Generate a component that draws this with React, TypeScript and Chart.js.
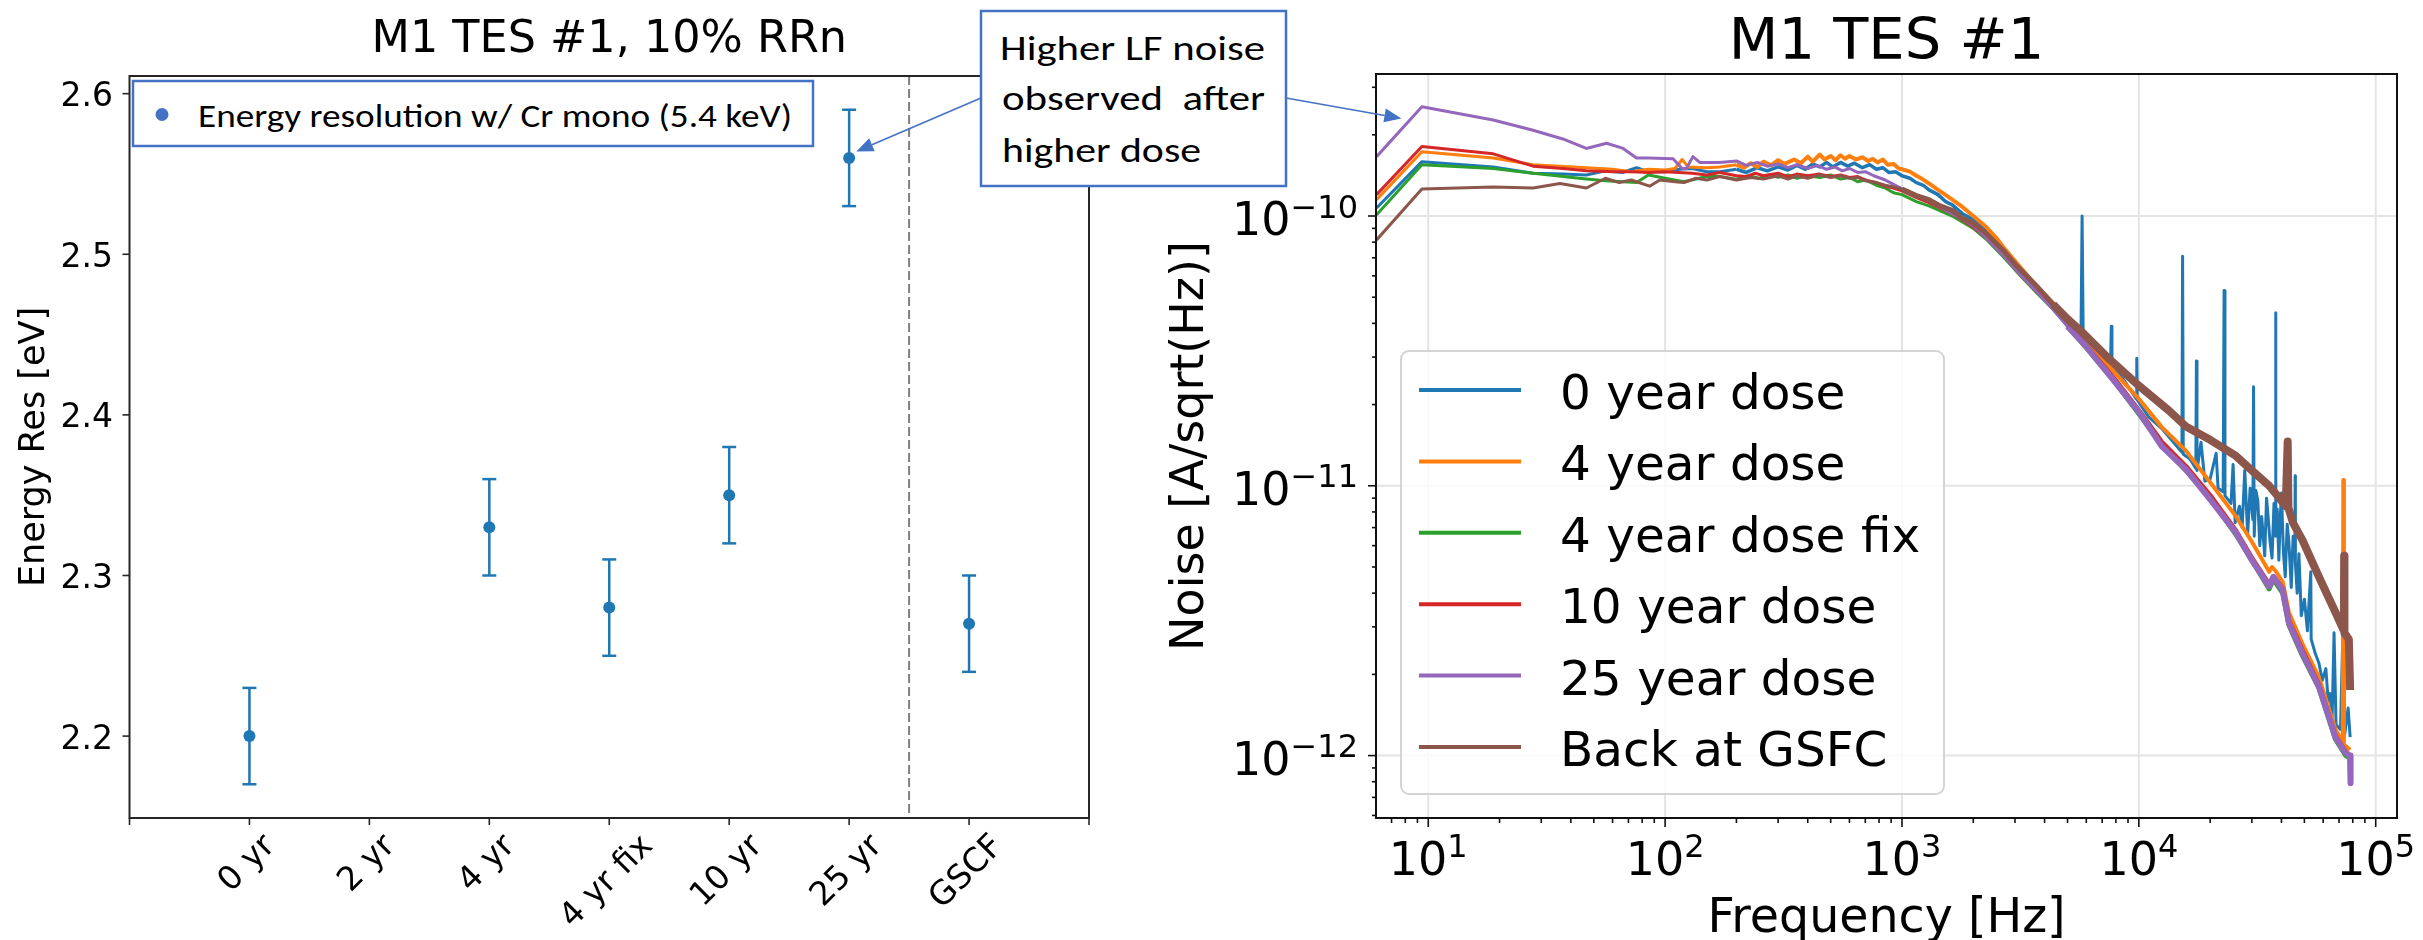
import React, { useEffect, useRef, useState } from 'react';
import { Chart, registerables } from 'chart.js';

Chart.register(...registerables);

// ---------------- Left panel data ----------------
const categories = ['0 yr', '2 yr', '4 yr', '4 yr fix', '10 yr', '25 yr', 'GSCF'];
const resolution = [2.2, null, 2.33, 2.28, 2.35, 2.56, 2.27];
const resolutionErr = [0.03, null, 0.03, 0.03, 0.03, 0.03, 0.03];
const resTicks = [2.2, 2.3, 2.4, 2.5, 2.6];
const separatorAt = 6.5;

// ---------------- Right panel data ----------------
// [frequency (Hz), noise (1e-12 A/sqrt(Hz))]
const dose0 = [
  [6.05, 107], [9.4, 159], [18.8, 152], [27.7, 144], [37, 143], [46.5, 142], [56, 147], [66, 145], [75.7, 151], [85, 146],
  [100, 146], [115, 149], [130, 150], [150, 146], [170, 146], [200, 149], [220, 145], [245, 151], [270, 147], [300, 152],
  [330, 148], [360, 154], [390, 149], [420, 156], [450, 152], [480, 158], [510, 152], [550, 158], [590, 153], [630, 157],
  [680, 151], [730, 155], [780, 149], [830, 151], [880, 145], [940, 146], [1000, 141], [1080, 138], [1150, 133], [1230, 130],
  [1300, 125], [1420, 120], [1530, 113], [1630, 110], [1800, 102], [2000, 97], [2270, 88], [2500, 80], [2700, 74], [3140, 63],
  [3700, 54], [4350, 46.5], [5000, 41], [5700, 37], [5760, 100], [5820, 36.5], [6600, 32.5], [7600, 28.5], [7650, 39], [7700, 28.2],
  [8700, 24.5], [9750, 21], [9800, 29.7], [9850, 20.8], [11000, 18], [12500, 16.3], [14000, 14.5], [15200, 13.3], [15300, 71], [15400, 13.1],
  [16400, 12.6], [17400, 11.6], [17500, 29], [17600, 11.4], [18300, 14.5], [19000, 10.4], [20000, 10.6], [21200, 13.2], [21600, 9.8], [22700, 9.5],
  [22900, 53], [23100, 9.2], [24500, 8.6], [25000, 12.0], [25500, 7.3], [26600, 8.4], [27300, 7.0], [28000, 11.4], [28800, 6.6], [29500, 9.8],
  [30300, 7.5], [30500, 23.3], [30700, 6.5], [31200, 9.6], [31800, 8.8], [32400, 6.0], [33000, 7.7], [34000, 5.5], [34600, 9.0], [35000, 8.0],
  [35800, 6.2], [36500, 5.4], [37200, 8.6], [37700, 7.5], [37800, 43.8], [37900, 6.5], [38400, 8.2], [39000, 5.3], [39600, 7.8], [40000, 9.4],
  [40800, 5.6], [41500, 4.6], [42300, 7.2], [43000, 6.2], [44000, 4.2], [44800, 6.5], [45600, 5.6], [45700, 10.9], [45800, 5.2], [46600, 4.0],
  [47400, 5.6], [48500, 3.3], [50000, 3.8], [51500, 2.9], [53200, 4.8], [53400, 2.7], [55500, 2.4], [57600, 2.2], [59500, 1.9], [61600, 2.1],
  [63000, 1.6], [64000, 1.7], [65500, 1.4], [66700, 2.85], [68000, 1.3], [71000, 1.25], [72800, 3.0], [74000, 1.2], [76500, 1.5], [78000, 1.17],
];
const dose4 = [
  [6.05, 115], [9.4, 173], [18.8, 164], [27.7, 155], [46.5, 151], [60, 149], [72, 146], [85, 149], [100, 148], [110, 150],
  [118, 162], [125, 152], [150, 151], [170, 152], [200, 155], [215, 151], [230, 157], [245, 152], [260, 159], [280, 154],
  [300, 161], [320, 156], [350, 162], [375, 157], [400, 166], [420, 159], [450, 169], [470, 162], [500, 167], [525, 161],
  [550, 168], [575, 163], [600, 167], [640, 162], [680, 165], [720, 160], [752, 163], [790, 158], [830, 162], [870, 155],
  [920, 156], [970, 150], [1000, 149], [1080, 146], [1150, 141], [1220, 137], [1300, 132], [1400, 126], [1500, 121], [1630, 115],
  [1800, 108], [2000, 100], [2270, 91], [2500, 83], [2700, 76], [3140, 65], [3700, 55], [4350, 47.5], [5000, 41.5], [6000, 34],
  [8000, 26], [10000, 21], [12500, 16.5], [15800, 13.5], [20000, 10.3], [25700, 7.7], [30000, 6.2], [35500, 4.8], [36500, 5.0], [38000, 4.8],
  [40500, 4.4], [43000, 3.4], [49000, 2.6], [57600, 1.95], [67600, 1.25], [72600, 1.12], [73000, 10.5], [73400, 1.1], [78000, 1.05],
];
const dose4fix = [
  [6.05, 101], [9.4, 155], [18.8, 150], [27.7, 144], [46.5, 137], [56, 135], [66, 134], [75.7, 133], [85, 142], [100, 138],
  [120, 134], [150, 140], [170, 140], [200, 137], [225, 141], [250, 138], [275, 142], [300, 139], [330, 142], [360, 138],
  [400, 141], [450, 139], [500, 142], [550, 137], [600, 139], [650, 134], [700, 136], [780, 130], [850, 127], [920, 122],
  [1000, 120], [1150, 113], [1300, 109], [1630, 100], [2000, 90], [2270, 82], [2700, 70], [3140, 60.5], [3700, 52], [4350, 45],
  [5000, 39], [6000, 32.5], [8000, 24], [10000, 18.5], [12500, 14.2], [15800, 11.4], [20000, 9], [25700, 6.6], [30000, 5.3], [35500, 4.15],
  [37000, 4.5], [40500, 4.0], [43000, 3.05], [49000, 2.35], [57600, 1.78], [67600, 1.15], [74800, 1.0], [78000, 0.98], [78300, 0.8],
];
const dose10 = [
  [6.05, 120], [9.4, 181], [18.8, 170], [27.7, 153], [37, 150], [46.5, 147], [60, 146], [72, 146], [85, 145], [100, 146],
  [130, 144], [150, 142], [170, 145], [200, 141], [220, 140], [240, 144], [260, 141], [300, 144], [330, 140], [360, 143],
  [400, 141], [450, 143], [500, 140], [550, 142], [600, 139], [650, 140], [700, 136], [780, 133], [850, 129], [920, 127],
  [1000, 124], [1150, 117], [1300, 112], [1630, 102], [2000, 91], [2270, 83], [2700, 71], [3140, 61], [3700, 52.5], [4350, 45.5],
  [5000, 39.5], [6000, 33], [8000, 24.5], [10000, 19], [12500, 14.5], [15800, 11.8], [20000, 9.2], [25700, 6.8], [30000, 5.4], [35500, 4.3],
  [37000, 4.6], [40500, 4.15], [43000, 3.15], [49000, 2.45], [57600, 1.82], [67600, 1.18], [74800, 1.03], [78000, 1.0], [78300, 0.79],
];
const dose25 = [
  [6.05, 166], [9.4, 254], [18.8, 227], [27.7, 208], [37, 193], [46.5, 178], [56.6, 186], [66.5, 178], [75.7, 164], [85, 164],
  [108, 163], [118, 150], [123, 150], [131, 166], [140, 158], [170, 158], [200, 160], [220, 154], [245, 158], [270, 153],
  [300, 156], [330, 151], [360, 155], [400, 150], [440, 154], [480, 149], [520, 152], [560, 147], [600, 150], [650, 145],
  [700, 146], [760, 141], [850, 136], [920, 131], [1000, 126], [1150, 119], [1300, 114], [1630, 102], [2000, 92], [2270, 83],
  [2700, 71], [3140, 61], [3700, 52.5], [4350, 45], [5000, 39], [6000, 32.8], [8000, 24], [10000, 18.8], [12500, 14], [15800, 11.5],
  [20000, 8.9], [25700, 6.7], [30000, 5.3], [35500, 4.24], [37000, 4.6], [40500, 4.1], [43000, 3.1], [49000, 2.4], [57600, 1.8], [67600, 1.17],
  [74800, 1.02], [78000, 1.0], [78300, 0.79],
];
const backGSFC = [
  [6.05, 81.5], [9.4, 126], [18.8, 128], [27.7, 127], [36, 132], [46.5, 127], [56, 138], [64, 133], [72, 136], [86, 129],
  [95, 136], [110, 134], [120, 133], [135, 138], [150, 136], [170, 140], [200, 136], [230, 139], [260, 137], [300, 141],
  [330, 137], [360, 141], [400, 138], [450, 142], [500, 139], [550, 141], [600, 138], [650, 139], [700, 135], [780, 133],
  [850, 130], [920, 128], [1000, 126], [1150, 119], [1300, 115], [1450, 109], [1630, 105], [1800, 98], [2000, 94], [2270, 86],
  [2700, 74], [3040, 65.5], [3700, 55], [4350, 47], [5000, 41.5], [5800, 36.9], [7500, 29.5], [10000, 23.5], [13400, 19], [15800, 16.6],
  [20000, 14.8], [25700, 12.9], [30000, 11.4], [35500, 10], [38000, 9.3], [41700, 8.4], [42500, 14.6], [42800, 8.3], [44700, 7.3], [49000, 6.3],
  [57600, 4.6], [67600, 3.4], [73400, 2.9], [73600, 5.5], [73800, 2.85], [77000, 2.7], [78000, 1.75],
];
const noiseSeries = [dose0, dose4, dose4fix, dose10, dose25, backGSFC];
const seriesLabels = ['0 year dose', '4 year dose', '4 year dose fix', '10 year dose', '25 year dose', 'Back at GSFC'];
const seriesColors = ['#1f77b4', '#ff7f0e', '#2ca02c', '#d62728', '#9467bd', '#8c564b'];
const freqTicks = [10, 100, 1000, 10000, 100000];
const noiseTicks = [1e-12, 1e-11, 1e-10];
const noiseUnit = 1e-12;

// ---------------- styling ----------------
const FONT = "'DejaVu Sans', 'Liberation Sans', sans-serif";
const NOTE_FONT = "Carlito, Lato, 'Open Sans', sans-serif";
const NOTE_BLUE = '#4472C4';
const RIGHT_X = 1110;

function seg(ctx: CanvasRenderingContext2D, x1: number, y1: number, x2: number, y2: number) {
  ctx.beginPath();
  ctx.moveTo(x1, y1);
  ctx.lineTo(x2, y2);
  ctx.stroke();
}

function lineWidthFor(series: number, f: number): number {
  if (series === 5) return f >= 4000 ? 8 : f >= 1000 ? 5 : 3;
  if (series === 4) return f >= 5000 ? 6 : 3;
  if (series === 1) return f >= 200 ? 4 : 3;
  if (series === 0) return f >= 200 && f < 5000 ? 3.5 : 3;
  return f >= 5000 ? 5 : 3;
}

const leftDecor = {
  id: 'leftDecor',
  beforeDatasetsDraw(chart: any) {
    const { ctx, chartArea: a, scales } = chart;
    const xs = scales.x;
    const ys = scales.y;
    ctx.save();
    ctx.strokeStyle = '#7f7f7f';
    ctx.lineWidth = 2;
    ctx.setLineDash([9, 4]);
    const dx = xs.getPixelForValue(separatorAt);
    seg(ctx, dx, a.top, dx, a.bottom);
    ctx.setLineDash([]);
    ctx.strokeStyle = '#1f77b4';
    ctx.lineWidth = 2.5;
    resolution.forEach((v, i) => {
      if (v == null) return;
      const e = resolutionErr[i] as number;
      const px = xs.getPixelForValue(i + 1);
      const top = ys.getPixelForValue(v + e);
      const bot = ys.getPixelForValue(v - e);
      seg(ctx, px, top, px, bot);
      seg(ctx, px - 7, top, px + 7, top);
      seg(ctx, px - 7, bot, px + 7, bot);
    });
    ctx.restore();
  },
  afterDraw(chart: any) {
    const { ctx, chartArea: a, scales } = chart;
    const xs = scales.x;
    const ys = scales.y;
    ctx.save();
    ctx.strokeStyle = '#262626';
    ctx.lineWidth = 2;
    ctx.strokeRect(a.left, a.top, a.right - a.left, a.bottom - a.top);
    ctx.lineWidth = 1.6;
    for (let i = 0; i <= categories.length + 1; i++) {
      const px = xs.getPixelForValue(i);
      seg(ctx, px, a.bottom, px, a.bottom + 7);
    }
    resTicks.forEach((v) => {
      const py = ys.getPixelForValue(v);
      seg(ctx, a.left - 7, py, a.left, py);
    });
    ctx.fillStyle = '#000';
    ctx.font = `33px ${FONT}`;
    ctx.textAlign = 'right';
    ctx.textBaseline = 'alphabetic';
    resTicks.forEach((v) => ctx.fillText(v.toFixed(1), a.left - 16.5, ys.getPixelForValue(v) + 12.5));
    ctx.textAlign = 'center';
    ctx.textBaseline = 'middle';
    categories.forEach((c, i) => {
      const px = xs.getPixelForValue(i + 1);
      const w = ctx.measureText(c).width;
      const H = (w + 33 * 1.17) * Math.SQRT1_2;
      ctx.save();
      ctx.translate(px - 2, a.bottom + 9.5 + H / 2);
      ctx.rotate(-Math.PI / 4);
      ctx.fillText(c, 0, 0);
      ctx.restore();
    });
    ctx.textBaseline = 'alphabetic';
    ctx.font = `35px ${FONT}`;
    ctx.save();
    ctx.translate(43.5, (a.top + a.bottom) / 2);
    ctx.rotate(-Math.PI / 2);
    ctx.fillText('Energy Res [eV]', 0, 0);
    ctx.restore();
    ctx.font = `44.5px ${FONT}`;
    ctx.fillText('M1 TES #1, 10% RRn', (a.left + a.right) / 2, 52);
    ctx.restore();
  },
};

function drawPow(ctx: CanvasRenderingContext2D, exp: string, anchor: number, align: 'center' | 'right', baseY: number, supY: number) {
  ctx.font = `46px ${FONT}`;
  const wb = ctx.measureText('10').width;
  ctx.font = `32px ${FONT}`;
  const ws = ctx.measureText(exp).width;
  const start = align === 'center' ? anchor - (wb + ws) / 2 : anchor - (wb + ws);
  ctx.textAlign = 'left';
  ctx.font = `46px ${FONT}`;
  ctx.fillText('10', start, baseY);
  ctx.font = `32px ${FONT}`;
  ctx.fillText(exp, start + wb, supY);
}

const rightDecor = {
  id: 'rightDecor',
  beforeDatasetsDraw(chart: any) {
    const { ctx, chartArea: a, scales } = chart;
    ctx.save();
    ctx.strokeStyle = '#e4e4e4';
    ctx.lineWidth = 2;
    freqTicks.forEach((v) => {
      const px = scales.x.getPixelForValue(v);
      if (px > a.left + 1 && px < a.right - 1) seg(ctx, px, a.top, px, a.bottom);
    });
    noiseTicks.forEach((v) => {
      const py = scales.y.getPixelForValue(v);
      if (py > a.top + 1 && py < a.bottom - 1) seg(ctx, a.left, py, a.right, py);
    });
    ctx.restore();
  },
  afterDraw(chart: any) {
    const { ctx, chartArea: a, scales } = chart;
    const xs = scales.x;
    const ys = scales.y;
    ctx.save();
    // legend
    const lw = 543;
    const lh = 443;
    const lx = a.left + 25;
    const ly = a.bottom - 24 - lh;
    ctx.fillStyle = 'rgba(255,255,255,0.8)';
    ctx.strokeStyle = '#d4d4d4';
    ctx.lineWidth = 2;
    ctx.beginPath();
    (ctx as any).roundRect(lx, ly, lw, lh, 8);
    ctx.fill();
    ctx.stroke();
    ctx.font = `48.5px ${FONT}`;
    ctx.textAlign = 'left';
    ctx.textBaseline = 'alphabetic';
    seriesLabels.forEach((lab, i) => {
      const ry = ly + 39 + i * 71.4;
      ctx.strokeStyle = seriesColors[i];
      ctx.lineWidth = 4;
      seg(ctx, lx + 18, ry, lx + 120, ry);
      ctx.fillStyle = '#000';
      ctx.fillText(lab, lx + 159, ry + 19);
    });
    // spines
    ctx.strokeStyle = '#111';
    ctx.lineWidth = 2;
    ctx.strokeRect(a.left, a.top, a.right - a.left, a.bottom - a.top);
    // ticks
    const xmin = xs.min;
    const xmax = xs.max;
    const ymin = ys.min;
    const ymax = ys.max;
    ctx.lineWidth = 1.6;
    for (let e = 0; e <= 5; e++) {
      for (let m = 1; m <= 9; m++) {
        const v = m * Math.pow(10, e);
        if (v < xmin || v > xmax) continue;
        const px = xs.getPixelForValue(v);
        seg(ctx, px, a.bottom, px, a.bottom + (m === 1 ? 9 : 5));
      }
    }
    for (let e = -13; e <= -10; e++) {
      for (let m = 1; m <= 9; m++) {
        const v = m * Math.pow(10, e);
        if (v < ymin || v > ymax) continue;
        const py = ys.getPixelForValue(v);
        seg(ctx, a.left - (m === 1 ? 8 : 4), py, a.left, py);
      }
    }
    // tick labels
    ctx.fillStyle = '#000';
    freqTicks.forEach((v) => {
      const px = xs.getPixelForValue(v);
      drawPow(ctx, String(Math.round(Math.log10(v))), px, 'center', a.bottom + 57, a.bottom + 38.7);
    });
    noiseTicks.forEach((v) => {
      const py = ys.getPixelForValue(v);
      const exp = '\u2212' + String(Math.abs(Math.round(Math.log10(v))));
      drawPow(ctx, exp, a.left - 18, 'right', py + 19, py + 1.5);
    });
    // titles
    ctx.textAlign = 'center';
    ctx.font = `57.5px ${FONT}`;
    ctx.fillText('M1 TES #1', (a.left + a.right) / 2, 59);
    ctx.font = `47.5px ${FONT}`;
    ctx.fillText('Frequency [Hz]', (a.left + a.right) / 2, 932);
    ctx.font = `46px ${FONT}`;
    ctx.save();
    ctx.translate(a.left - 173, (a.top + a.bottom) / 2);
    ctx.rotate(-Math.PI / 2);
    ctx.fillText('Noise [A/sqrt(Hz)]', 0, 0);
    ctx.restore();
    ctx.restore();
  },
};

const arrowToResolution = { x: 6.06, y: 2.564 };
const arrowToNoise = { x: 7.7, y: 2.3e-10 };

function Arrow({ from, to }: { from: [number, number]; to: [number, number] }) {
  const dx = to[0] - from[0];
  const dy = to[1] - from[1];
  const len = Math.hypot(dx, dy);
  const ux = dx / len;
  const uy = dy / len;
  const bx = to[0] - ux * 17;
  const by = to[1] - uy * 17;
  const px = -uy * 7;
  const py = ux * 7;
  return (
    <g>
      <line x1={from[0]} y1={from[1]} x2={bx} y2={by} stroke={NOTE_BLUE} strokeWidth={1.6} />
      <polygon points={`${to[0]},${to[1]} ${bx + px},${by + py} ${bx - px},${by - py}`} fill={NOTE_BLUE} />
    </g>
  );
}

export default function App() {
  const leftRef = useRef<HTMLCanvasElement>(null);
  const rightRef = useRef<HTMLCanvasElement>(null);
  const [tips, setTips] = useState<null | { a: [number, number]; b: [number, number] }>(null);

  useEffect(() => {
    const points = resolution
      .map((v, i) => (v == null ? null : { x: i + 1, y: v }))
      .filter((p) => p !== null);
    const left = new Chart(leftRef.current as HTMLCanvasElement, {
      type: 'scatter',
      data: {
        datasets: [
          {
            label: 'Energy resolution w/ Cr mono (5.4 keV)',
            data: points as any,
            pointRadius: 6,
            pointHoverRadius: 6,
            backgroundColor: '#1f77b4',
            borderColor: '#1f77b4',
            borderWidth: 0,
          },
        ],
      },
      options: {
        animation: false,
        responsive: false,
        devicePixelRatio: 1,
        events: [],
        layout: { padding: { left: 129.5, right: 21, top: 76, bottom: 122 } },
        scales: {
          x: { type: 'linear', min: 0, max: 8, display: false },
          y: { type: 'linear', min: 2.149, max: 2.611, display: false },
        },
        plugins: { legend: { display: false }, tooltip: { enabled: false } },
      },
      plugins: [leftDecor],
    } as any);

    const right = new Chart(rightRef.current as HTMLCanvasElement, {
      type: 'line',
      data: {
        datasets: noiseSeries.map((s, i) => ({
          label: seriesLabels[i],
          data: s.map(([f, v]) => ({ x: f, y: v * noiseUnit })),
          borderColor: seriesColors[i],
          backgroundColor: seriesColors[i],
          borderWidth: 3,
          pointRadius: 0,
          tension: 0,
          fill: false,
          order: 6 - i,
          borderJoinStyle: 'round',
          segment: { borderWidth: (ctx: any) => lineWidthFor(i, ctx.p0.parsed.x) },
        })),
      },
      options: {
        animation: false,
        responsive: false,
        devicePixelRatio: 1,
        events: [],
        layout: { padding: { left: 266, right: 26, top: 74, bottom: 122 } },
        scales: {
          x: { type: 'logarithmic', min: 6.017, max: 123000, display: false },
          y: { type: 'logarithmic', min: 5.87e-13, max: 3.36e-10, display: false },
        },
        plugins: { legend: { display: false }, tooltip: { enabled: false } },
      },
      plugins: [rightDecor],
    } as any);

    setTips({
      a: [left.scales.x.getPixelForValue(arrowToResolution.x), left.scales.y.getPixelForValue(arrowToResolution.y)],
      b: [RIGHT_X + right.scales.x.getPixelForValue(arrowToNoise.x), right.scales.y.getPixelForValue(arrowToNoise.y)],
    });

    return () => {
      left.destroy();
      right.destroy();
    };
  }, []);

  return (
    <div style={{ position: 'fixed', left: 0, top: 0, width: 2423, height: 940, background: '#fff', overflow: 'hidden' }}>
      <canvas ref={leftRef} width={1110} height={940} style={{ position: 'absolute', left: 0, top: 0, width: 1110, height: 940 }} />
      <canvas ref={rightRef} width={1313} height={940} style={{ position: 'absolute', left: RIGHT_X, top: 0, width: 1313, height: 940 }} />
      <svg width={2423} height={940} style={{ position: 'absolute', left: 0, top: 0, pointerEvents: 'none' }}>
        <rect x={133} y={81} width={680} height={65} fill="#fff" stroke={NOTE_BLUE} strokeWidth={2.5} />
        <circle cx={162} cy={114.5} r={6.5} fill={NOTE_BLUE} />
        <text x={198} y={127} fontFamily={NOTE_FONT} fontSize={32.5} fill="#000" textLength={594} lengthAdjust="spacingAndGlyphs">
          Energy resolution w/ Cr mono (5.4 keV)
        </text>
        <rect x={981} y={11} width={305} height={175} fill="#fff" stroke={NOTE_BLUE} strokeWidth={2.5} />
        <text x={1000} y={60} fontFamily={NOTE_FONT} fontSize={35} fill="#000" textLength={265} lengthAdjust="spacingAndGlyphs">
          Higher LF noise
        </text>
        <text x={1002} y={110} fontFamily={NOTE_FONT} fontSize={35} fill="#000" textLength={263} lengthAdjust="spacingAndGlyphs" style={{ whiteSpace: 'pre' }}>
          {'observed  after'}
        </text>
        <text x={1002} y={162} fontFamily={NOTE_FONT} fontSize={35} fill="#000" textLength={199} lengthAdjust="spacingAndGlyphs">
          higher dose
        </text>
        {tips && <Arrow from={[981, 98]} to={tips.a} />}
        {tips && <Arrow from={[1286, 98]} to={tips.b} />}
      </svg>
    </div>
  );
}
